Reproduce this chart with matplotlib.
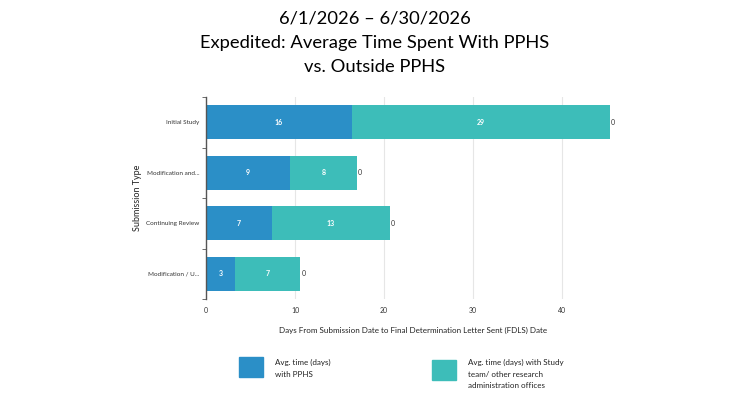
import matplotlib
matplotlib.use("Agg")
import matplotlib.pyplot as plt
from matplotlib.patches import Rectangle

plt.rcParams['font.family'] = ['Lato', 'DejaVu Sans']

categories = ["Initial Study", "Modification and...", "Continuing Review", "Modification / U..."]
with_pphs = [16.4, 9.4, 7.4, 3.3]
with_study_team = [29.0, 7.6, 13.3, 7.3]
other = [0, 0, 0, 0]
series_names = ["Avg. time (days)\nwith PPHS",
                "Avg. time (days) with Study\nteam/ other research\nadministration offices"]
blue = "#2b8fc7"
teal = "#3dbdb9"

fig = plt.figure(figsize=(7.5, 4), dpi=100)
ax = fig.add_axes([206 / 750, 1 - 299 / 400, (620 - 206) / 750, (299 - 97) / 400])

y = list(range(len(categories)))
ax.barh(y, with_pphs, height=0.68, color=blue, zorder=2)
ax.barh(y, with_study_team, left=with_pphs, height=0.68, color=teal, zorder=2)

for i in y:
    ax.text(with_pphs[i] / 2, i, f"{round(with_pphs[i])}", ha="center", va="center",
            color="white", fontsize=5, fontweight="bold")
    ax.text(with_pphs[i] + with_study_team[i] / 2, i, f"{round(with_study_team[i])}",
            ha="center", va="center", color="white", fontsize=5, fontweight="bold")
    end = with_pphs[i] + with_study_team[i] + other[i]
    ax.text(end + 0.1, i, f"{other[i]}", ha="left", va="center", color="#333333", fontsize=5)

ax.set_ylim(3.5, -0.5)
ax.set_xlim(0, 46.5)
ax.set_xticks([0, 10, 20, 30, 40])
ax.set_yticks(y)
ax.set_yticklabels(categories)
ax.set_yticks([-0.5, 0.5, 1.5, 2.5, 3.5], minor=True)
ax.tick_params(axis="y", which="major", length=0, labelsize=4.6, pad=5, colors="#333333")
ax.tick_params(axis="y", which="minor", length=3, color="#555555")
ax.tick_params(axis="x", length=0, labelsize=5, pad=6, colors="#333333")
ax.grid(axis="x", color="#e6e6e6", linewidth=0.8, zorder=0)
for s in ["top", "right", "bottom"]:
    ax.spines[s].set_visible(False)
ax.spines["left"].set_color("#555555")
ax.spines["left"].set_linewidth(1)

ax.set_xlabel("Days From Submission Date to Final Determination Letter Sent (FDLS) Date",
              fontsize=5.8, labelpad=9, color="#222222")
ax.set_ylabel("Submission Type", fontsize=6.5, labelpad=3, color="#222222")

fig.text(0.5, 1 - 19 / 400, "6/1/2026 \u2013 6/30/2026", ha="center", va="center", fontsize=13.2)
fig.text(0.5, 1 - 43 / 400, "Expedited: Average Time Spent With PPHS", ha="center", va="center", fontsize=13.2)
fig.text(0.5, 1 - 67 / 400, "vs. Outside PPHS", ha="center", va="center", fontsize=13.2)

# legend drawn by hand below the chart
for (x0, y0, c, label) in [(239, 357, blue, series_names[0]), (432, 360, teal, series_names[1])]:
    fig.patches.append(Rectangle((x0 / 750, 1 - (y0 + 20) / 400), 24 / 750, 20 / 400,
                                 transform=fig.transFigure, color=c))
    fig.text((x0 + 36) / 750, 1 - 359 / 400, label, ha="left", va="top",
             fontsize=5.8, color="#222222", linespacing=1.75)

fig.savefig("out.png", dpi=100)
